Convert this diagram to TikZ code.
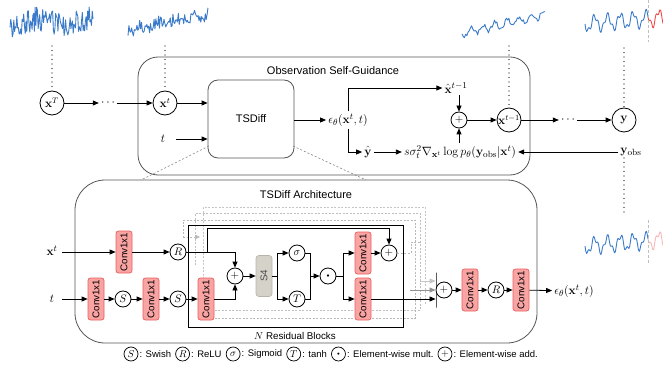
\documentclass[tikz,border=0pt]{standalone}
\usepackage[no-math]{fontspec}
\setmainfont{Liberation Sans}
\usetikzlibrary{arrows.meta,calc}
\definecolor{serblue}{HTML}{3A7AC8}
\definecolor{serred}{HTML}{F04848}
\definecolor{serredl}{HTML}{F8B8B8}
\definecolor{convF}{HTML}{F9A3A3}
\definecolor{convB}{HTML}{E86060}
\definecolor{s4F}{HTML}{D5D2CA}
\definecolor{s4B}{HTML}{B8B4AA}
\definecolor{boxB}{HTML}{555555}
\begin{document}
\begin{tikzpicture}[x=1pt,y=-1pt,
  ln/.style={line width=0.8pt},
  arr/.style={ln,-{Triangle[length=6pt,width=5pt]}},
  bigc/.style={circle,draw,line width=0.8pt,minimum size=24pt,inner sep=0pt,fill=white,font=\fontsize{12}{12}\selectfont},
  smc/.style={circle,draw,line width=0.8pt,minimum size=16pt,inner sep=0pt,fill=white,font=\fontsize{11}{11}\selectfont},
  legc/.style={circle,draw,line width=0.7pt,minimum size=14pt,inner sep=0pt,fill=white,font=\fontsize{10}{10}\selectfont},
  leglab/.style={font=\fontsize{9.5}{11}\selectfont,inner sep=1pt},
  convbox/.style={draw=convB,fill=convF,line width=0.7pt,rounded corners=2.5pt,minimum width=42pt,minimum height=16pt,inner sep=0pt,rotate=90,font=\fontsize{9.8}{9.8}\selectfont},
  s4box/.style={draw=s4B,fill=s4F,line width=0.7pt,rounded corners=3pt,minimum width=41pt,minimum height=16pt,inner sep=0pt,rotate=90,font=\fontsize{9.8}{9.8}\selectfont,text=black!70},
  mlab/.style={font=\fontsize{12.5}{14}\selectfont,inner sep=2pt},
  dotline/.style={line width=1.2pt,dash pattern=on 0pt off 4.5pt,line cap=round},
  ghost/.style={gray!55,line width=0.6pt,dash pattern=on 2pt off 1.5pt},
  zoomline/.style={gray,line width=0.6pt,dash pattern=on 2pt off 2pt},
  ser/.style={serblue,line width=0.9pt,line join=round},
  titl/.style={font=\fontsize{11}{13}\selectfont}
]
\useasboundingbox (0,0) rectangle (663,366);

% ---------- time series ----------
\pgfmathsetseed{7}
\draw[ser] plot[domain=10:93,samples=110] (\x,{22+12*rand+3*sin(7*\x)});
\draw[ser] plot[domain=128:208,samples=90] (\x,{30-0.2*(\x-128)+6*rand+2*sin(20*\x)});
\draw[ser] plot[domain=462:545,samples=70] (\x,{33-0.22*(\x-462)+4*sin(30*(\x-462))+2.5*rand});
\draw[ser] plot[domain=585:648,samples=80,smooth] (\x,{24-0.08*(\x-585)+7*sin(28*(\x-585))+3*sin(75*(\x-585))});
\draw[serred,line width=0.9pt] plot[domain=648:663,samples=20,smooth] (\x,{24-0.08*(\x-585)+7*sin(28*(\x-585))+3*sin(75*(\x-585))});
\draw[ser] plot[domain=585:648,samples=80,smooth] (\x,{246-0.08*(\x-585)+7*sin(28*(\x-585))+3*sin(75*(\x-585))});
\draw[serredl,line width=0.9pt] plot[domain=648:663,samples=20,smooth] (\x,{246-0.08*(\x-585)+7*sin(28*(\x-585))+3*sin(75*(\x-585))});
\draw[gray!50,line width=0.6pt,dash pattern=on 3pt off 2pt] (648,0) -- (648,42);
\draw[gray!50,line width=0.6pt,dash pattern=on 3pt off 2pt] (648,220) -- (648,264);

% ---------- observation self-guidance ----------
\node[draw=boxB,line width=0.8pt,rounded corners=20pt,minimum width=392pt,minimum height=118pt] (obs) at (334,116) {};
\node[titl] (obsT) at (333,71) {Observation Self-Guidance};

\node[bigc] (xT) at (52,103) {$\mathbf{x}^T$};
\node[mlab] (dA) at (108,103) {$\cdots$};
\node[bigc] (xt) at (165,103) {$\mathbf{x}^t$};
\node[draw=boxB,line width=0.8pt,rounded corners=10pt,minimum width=86pt,minimum height=78pt,fill=white,titl] (tsd) at (251,119) {TSDiff};
\node[mlab,minimum width=26pt] (tl) at (163,139) {$t$};
\node[mlab] (eps) at (348,120) {$\epsilon_\theta(\mathbf{x}^t, t)$};
\node[mlab] (xh) at (456,88) {$\hat{\mathbf{x}}^{t-1}$};
\node[smc] (p1) at (459,120) {$+$};
\node[bigc] (xtm) at (509,120) {\makebox[0pt]{$\mathbf{x}^{t-1}$}};
\node[mlab] (dB) at (568,120) {$\cdots$};
\node[bigc] (yn) at (624,120) {$\mathbf{y}$};
\node[mlab] (yh) at (368,152) {$\hat{\mathbf{y}}$};
\node[mlab] (ex) at (460,152) {$s\sigma_t^2\nabla_{\mathbf{x}^t}\log p_\theta(\mathbf{y}_{\mathrm{obs}}|\mathbf{x}^t)$};
\node[mlab] (yo) at (631,152) {$\mathbf{y}_{\mathrm{obs}}$};

\draw[arr] (xT) -- (dA);
\draw[arr] (dA) -- (xt);
\draw[arr] (xt) -- (xt -| tsd.west);
\draw[arr] (tl) -- (tl -| tsd.west);
\draw[arr] (tsd.east |- eps) -- (eps);
\draw[arr] (eps.north) |- (xh);
\draw[arr] (eps.south) |- (yh);
\draw[arr] (yh) -- (ex);
\draw[arr] (xh.south -| p1) -- (p1);
\draw[arr] (ex.north -| p1) -- (p1);
\draw[arr] (p1) -- (xtm);
\draw[arr] (xtm) -- (dB);
\draw[arr] (dB) -- (yn);
\draw[arr] (yo) -- (ex);

\coordinate (s1b) at (52,46);
\coordinate (s2b) at (165,46);
\coordinate (s3b) at (509,46);
\coordinate (s4b) at (624,48);
\coordinate (s5t) at (624,216);
\draw[dotline] (s1b) -- (xT);
\draw[dotline] (s2b) -- (xt);
\draw[dotline] (s3b) -- (xtm);
\draw[dotline] (s4b) -- (yn);
\draw[dotline] (yo.south -| yn) -- (s5t);

% zoom lines
\coordinate (za) at (209,146);
\coordinate (zb) at (141,180);
\coordinate (zc) at (293,146);
\coordinate (zd) at (366,180);
\draw[zoomline] (za) -- (zb);
\draw[zoomline] (zc) -- (zd);

% ---------- architecture ----------
\node[draw=boxB,line width=0.8pt,rounded corners=30pt,minimum width=462pt,minimum height=163pt] (arch) at (306,261.5) {};
\node[titl] (archT) at (306,195) {TSDiff Architecture};

% ghost residual blocks
\draw[ghost,gray!45] (203,279) -- (203,207) -- (425,207) -- (425,305);
\draw[ghost,gray!50] (195,265) -- (195,213) -- (420,213) -- (420,310) -- (214,310);
\draw[ghost] (213,220) -- (183,220) -- (183,237);
\draw[ghost] (183,220) -- (415,220) -- (415,318) -- (214,318);
\draw[ghost,-{Triangle[length=5pt,width=4.5pt]}] (183,237) -- (200,237);

\node[draw,line width=0.8pt,minimum width=215pt,minimum height=102pt,inner sep=0pt] (rb) at (295.5,276) {};

\node[mlab] (xin) at (52,251) {$\mathbf{x}^t$};
\coordinate (xs) at (62,252);
\node[convbox] (c1) at (124,252) {Conv1x1};
\node[smc] (r1) at (178,252) {$R$};
\node[mlab] (tin) at (52,299) {$t$};
\coordinate (ts) at (62,299);
\node[convbox] (c2) at (96,299) {Conv1x1};
\node[smc] (sw1) at (123,299) {$S$};
\node[convbox] (c3) at (151,299) {Conv1x1};
\node[smc] (sw2) at (178,299) {$S$};
\node[convbox] (c4) at (206,299) {Conv1x1};

\node[smc] (p2) at (235,276) {$+$};
\node[s4box] (s4) at (264,276) {S4};
\coordinate (sp1) at (277,276);
\node[smc] (sg) at (297,253) {$\sigma$};
\node[smc] (th) at (297,299) {$T$};
\coordinate (jn) at (310,276);
\node[smc] (dt) at (328,276) {\scalebox{0.55}{$\bullet$}};
\coordinate (sp2) at (343,276);
\node[convbox] (c5) at (363,253) {Conv1x1};
\node[convbox] (c6) at (363,299) {Conv1x1};
\node[smc] (p3) at (389,253) {$+$};
\coordinate (rt) at (207,228);
\draw[ghost] (p3.east) -- (411,253) -- (411,242) -- (420,242);

\node[draw,line width=0.9pt,minimum width=0pt,minimum height=35pt,inner sep=0pt] (bar) at (436,290) {};
\node[smc] (p4) at (444,290) {$+$};
\node[convbox] (c7) at (470,290) {Conv1x1};
\node[smc] (r2) at (496,290) {$R$};
\node[convbox] (c8) at (521,290) {Conv1x1};
\node[mlab] (eo) at (574,291) {$\epsilon_\theta(\mathbf{x}^t, t)$};
\node[font=\fontsize{9.8}{11}\selectfont] (nrb) at (295,336) {$N$ Residual Blocks};

\draw[arr] (xs) -- (c1);
\draw[arr] (c1) -- (r1);
\draw[arr] (r1) -| (p2);
\draw[arr] (r1) -| (rt) -| (p3);
\draw[arr] (ts) -- (c2);
\draw[arr] (c2) -- (sw1);
\draw[arr] (sw1) -- (c3);
\draw[arr] (c3) -- (sw2);
\draw[arr] (sw2) -- (c4);
\draw[arr] (c4) -| (p2);
\draw[arr] (p2) -- (s4);
\draw[ln] (s4) -- (sp1);
\draw[arr] (sp1) |- (sg);
\draw[arr] (sp1) |- (th);
\draw[ln] (sg) -| (jn);
\draw[ln] (th) -| (jn);
\draw[arr] (jn) -- (dt);
\draw[ln] (dt) -- (sp2);
\draw[arr] (sp2) |- (c5);
\draw[arr] (sp2) |- (c6);
\draw[arr] (c5) -- (p3);
\draw[arr] (c6) -- (c6 -| bar.west);
\coordinate (ga) at (420,281);
\coordinate (gb) at (410,290);
\draw[arr,gray!45] (ga) -- (ga -| bar.west);
\draw[arr,gray!85] (gb) -- (gb -| bar.west);
\draw[arr] (p4) -- (c7);
\draw[arr] (c7) -- (r2);
\draw[arr] (r2) -- (c8);
\draw[arr] (c8) -- (eo);

% ---------- legend ----------
\node[legc] (lS) at (131,354) {$S$};
\node[leglab,anchor=west] (lSt) at (lS.east) {: Swish};
\node[legc,anchor=west] (lR) at ([xshift=3pt]lSt.east) {$R$};
\node[leglab,anchor=west] (lRt) at (lR.east) {: ReLU};
\node[legc,anchor=west] (lG) at ([xshift=3pt]lRt.east) {$\sigma$};
\node[leglab,anchor=west] (lGt) at (lG.east) {: Sigmoid};
\node[legc,anchor=west] (lT) at ([xshift=3pt]lGt.east) {$T$};
\node[leglab,anchor=west] (lTt) at (lT.east) {: tanh};
\node[legc,anchor=west] (lM) at ([xshift=3pt]lTt.east) {\scalebox{0.55}{$\bullet$}};
\node[leglab,anchor=west] (lMt) at (lM.east) {: Element-wise mult.};
\node[legc,anchor=west] (lA) at ([xshift=3pt]lMt.east) {$+$};
\node[leglab,anchor=west] (lAt) at (lA.east) {: Element-wise add.};
\end{tikzpicture}
\end{document}
